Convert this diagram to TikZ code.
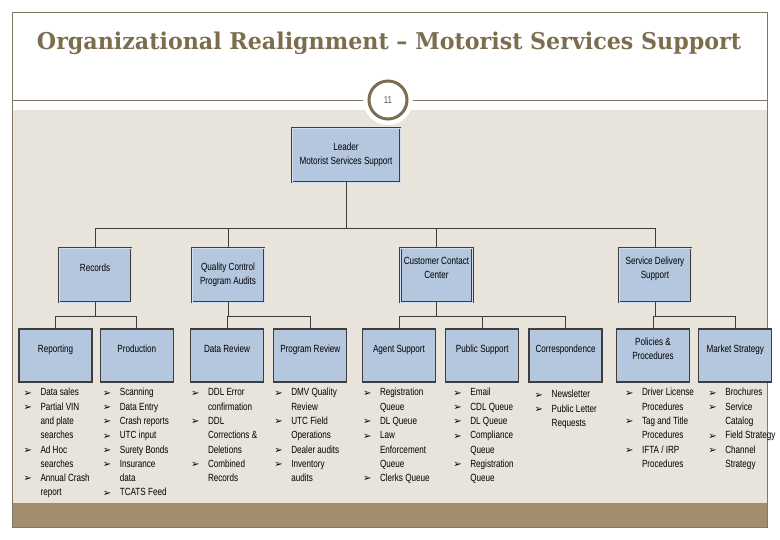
\documentclass[tikz,border=0pt]{standalone}
\usepackage{fontspec}
\setmainfont[FakeStretch=0.78]{Liberation Sans}
\newfontfamily\titlefont[FakeStretch=0.96]{DejaVu Serif}
\newfontfamily\symfont{DejaVu Sans}
\usetikzlibrary{positioning}
\definecolor{boxblue}{RGB}{181,199,223}
\definecolor{panel}{RGB}{232,228,220}
\definecolor{band}{RGB}{161,142,110}
\definecolor{olive}{RGB}{125,109,79}
\definecolor{rule}{RGB}{128,120,100}
\definecolor{edge}{RGB}{62,62,62}
\tikzstyle{head} = [draw=edge, line width=0.6pt, double=boxblue!60!white, double distance=0.9pt, fill=boxblue, minimum width=72pt, minimum height=54pt, inner sep=1pt, align=center, font=\fontsize{10.4}{13.8}\selectfont]
\tikzstyle{unit} = [draw=edge, line width=1.3pt, fill=boxblue, minimum width=73pt, minimum height=53pt, inner sep=1pt, align=center, font=\fontsize{10.4}{13.8}\selectfont]
\tikzstyle{duties} = [anchor=north west, inner sep=0pt, align=left, font=\fontsize{10.4}{14.3}\selectfont]
\tikzstyle{link} = [draw=edge, line width=1pt]
\newcommand\bul{\makebox[17pt][l]{\symfont\fontsize{10}{10}\selectfont\raisebox{-0.3pt}{➢}}}

\begin{document}
\begin{tikzpicture}[x=1pt, y=-1pt]
  \useasboundingbox (0,0) rectangle (780,540);
  % slide background
  \fill[panel] (12,110) rectangle (767,503);
  \fill[band] (12,503) rectangle (767,527);
  \draw[rule, line width=0.8pt] (12,12) rectangle (767,527);
  \draw[rule, line width=0.8pt] (12,100) -- (767,100);
  \fill[white] (388,100) circle (25);
  \node[circle, draw=olive, line width=3pt, fill=white, minimum size=38pt, inner sep=0pt, text=olive!80!black, font=\fontsize{10}{10}\selectfont] (pageno) at (388,100) {11};
  \node[text=olive, font=\titlefont\bfseries\fontsize{23.1}{23.1}\selectfont] (title) at (389,43) {Organizational Realignment – Motorist Services Support};

  % org chart
  \node[head, minimum width=108pt] (leader) at (346,155) {Leader\\Motorist Services Support};

  \node[head] (records) at (95,275) {Records\\ \mbox{}};
  \node[head] (quality) at (228,275) {Quality Control\\Program Audits};
  \node[head] (contact) at (436.5,275) {Customer Contact\\Center\\ \mbox{}};
  \node[head] (delivery) at (655,275) {Service Delivery\\Support\\ \mbox{}};

  \node[unit] (reporting) at (55.5,355.5) {Reporting\\ \mbox{}};
  \node[unit, right=7pt of reporting] (production) {Production\\ \mbox{}};
  \node[unit] (datareview) at (227,355.5) {Data Review\\ \mbox{}};
  \node[unit, right=9pt of datareview] (progreview) {Program Review\\ \mbox{}};
  \node[unit] (agent) at (399,355.5) {Agent Support\\ \mbox{}};
  \node[unit, right=9pt of agent] (public) {Public Support\\ \mbox{}};
  \node[unit, right=9pt of public] (corresp) {Correspondence\\ \mbox{}};
  \node[unit] (policies) at (653,355.5) {Policies \&\\Procedures\\ \mbox{}};
  \node[unit, right=8pt of policies] (market) {Market Strategy\\ \mbox{}};

  \draw[link] (leader.south) -- ++(0,46) -| (records.north);
  \draw[link] (leader.south) -- ++(0,46) -| (quality.north);
  \draw[link] (leader.south) -- ++(0,46) -| (contact.north);
  \draw[link] (leader.south) -- ++(0,46) -| (delivery.north);

  \draw[link] (records.south) -- ++(0,14) -| (reporting.north);
  \draw[link] (records.south) -- ++(0,14) -| (production.north);
  \draw[link] (quality.south) -- ++(0,14) -| (datareview.north);
  \draw[link] (quality.south) -- ++(0,14) -| (progreview.north);
  \draw[link] (contact.south) -- ++(0,14) -| (agent.north);
  \draw[link] (contact.south) -- ++(0,14) -| (public.north);
  \draw[link] (contact.south) -- ++(0,14) -| (corresp.north);
  \draw[link] (delivery.south) -- ++(0,14) -| (policies.north);
  \draw[link] (delivery.south) -- ++(0,14) -| (market.north);

  % duty lists
  \node[duties] (reportingL) at ([xshift=5pt, yshift=-3pt]reporting.south west) {\begin{tabular}{@{}l@{}l@{}}
    \bul & Data sales\\ \bul & Partial VIN\\ & and plate\\ & searches\\ \bul & Ad Hoc\\ & searches\\ \bul & Annual Crash\\ & report
  \end{tabular}};
  \node[duties] (productionL) at ([xshift=3pt, yshift=-3pt]production.south west) {\begin{tabular}{@{}l@{}l@{}}
    \bul & Scanning\\ \bul & Data Entry\\ \bul & Crash reports\\ \bul & UTC input\\ \bul & Surety Bonds\\ \bul & Insurance\\ & data\\ \bul & TCATS Feed
  \end{tabular}};
  \node[duties] (datareviewL) at ([xshift=1pt, yshift=-3pt]datareview.south west) {\begin{tabular}{@{}l@{}l@{}}
    \bul & DDL Error\\ & confirmation\\ \bul & DDL\\ & Corrections \&\\ & Deletions\\ \bul & Combined\\ & Records
  \end{tabular}};
  \node[duties] (progreviewL) at ([xshift=1pt, yshift=-3pt]progreview.south west) {\begin{tabular}{@{}l@{}l@{}}
    \bul & DMV Quality\\ & Review\\ \bul & UTC Field\\ & Operations\\ \bul & Dealer audits\\ \bul & Inventory\\ & audits
  \end{tabular}};
  \node[duties] (agentL) at ([xshift=1pt, yshift=-3pt]agent.south west) {\begin{tabular}{@{}l@{}l@{}}
    \bul & Registration\\ & Queue\\ \bul & DL Queue\\ \bul & Law\\ & Enforcement\\ & Queue\\ \bul & Clerks Queue
  \end{tabular}};
  \node[duties] (publicL) at ([xshift=8pt, yshift=-3pt]public.south west) {\begin{tabular}{@{}l@{}l@{}}
    \bul & Email\\ \bul & CDL Queue\\ \bul & DL Queue\\ \bul & Compliance\\ & Queue\\ \bul & Registration\\ & Queue
  \end{tabular}};
  \node[duties] (correspL) at ([xshift=6pt, yshift=-5pt]corresp.south west) {\begin{tabular}{@{}l@{}l@{}}
    \bul & Newsletter\\ \bul & Public Letter\\ & Requests
  \end{tabular}};
  \node[duties] (policiesL) at ([xshift=9pt, yshift=-3pt]policies.south west) {\begin{tabular}{@{}l@{}l@{}}
    \bul & Driver License\\ & Procedures\\ \bul & Tag and Title\\ & Procedures\\ \bul & IFTA / IRP\\ & Procedures
  \end{tabular}};
  \node[duties] (marketL) at ([xshift=10pt, yshift=-3pt]market.south west) {\begin{tabular}{@{}l@{}l@{}}
    \bul & Brochures\\ \bul & Service\\ & Catalog\\ \bul & Field Strategy\\ \bul & Channel\\ & Strategy
  \end{tabular}};
\end{tikzpicture}
\end{document}
